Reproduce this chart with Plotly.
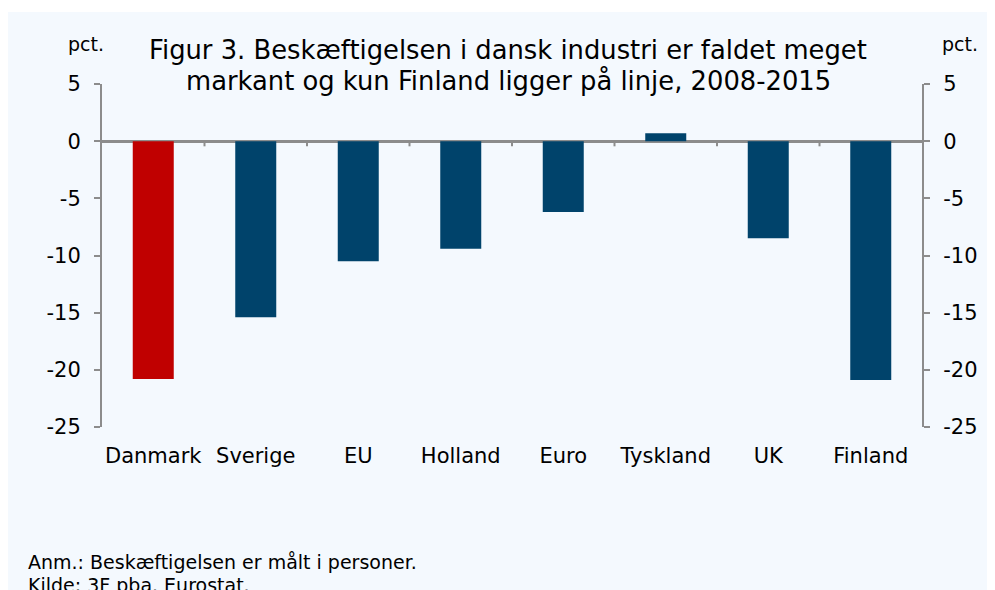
import plotly.graph_objects as go

categories = ["Danmark", "Sverige", "EU", "Holland", "Euro", "Tyskland", "UK", "Finland"]
values = [-20.8, -15.4, -10.5, -9.4, -6.2, 0.7, -8.5, -20.9]
bar_colors = ["#C00000"] + ["#00436B"] * 7
y_ticks = [5, 0, -5, -10, -15, -20, -25]
y_ticktext = ["5", "0", "-5", "-10", "-15", "-20", "-25"]

FONT = "DejaVu Sans"
AXC = "#8C8C8C"
BG = "#F4F9FE"

# page body has an 8px offset; work in figure coordinates (screen - 8)
OFF = 8
L, R, T, B = 102 - OFF, 922 - OFF, 84 - OFF, 427 - OFF
W, H = 995, 590
PW, PH = R - L, B - T


def px(xs):
    return (xs - OFF - L) / PW


def py(ys):
    return (B - (ys - OFF)) / PH


fig = go.Figure()
fig.add_trace(go.Bar(x=categories, y=values, marker=dict(color=bar_colors, line=dict(width=0)),
                     width=0.4, hoverinfo="x+y", showlegend=False))
fig.add_trace(go.Scatter(x=categories, y=values, yaxis="y2", mode="markers",
                         marker=dict(opacity=0), hoverinfo="skip", showlegend=False))

shapes = [
    dict(type="rect", xref="paper", yref="paper", x0=px(0), x1=px(1000), y0=py(12), y1=py(0),
         fillcolor="white", line=dict(width=0), layer="below"),
]
for i in range(len(categories) - 1):
    shapes.append(dict(type="line", xref="x", yref="y", x0=i + 0.5, x1=i + 0.5, y0=0, y1=-0.45,
                       line=dict(color=AXC, width=2)))

yax = dict(range=[-25, 5], tickvals=y_ticks, ticktext=y_ticktext, showgrid=False, showline=True,
           linecolor=AXC, linewidth=2, ticks="outside", ticklen=6, tickcolor=AXC, tickwidth=2,
           tickfont=dict(size=21), automargin=False, ticklabelstandoff=9)

fig.update_layout(
    width=W, height=H,
    paper_bgcolor=BG, plot_bgcolor=BG,
    margin=dict(l=L, r=W - R, t=T, b=H - B),
    font=dict(family=FONT, color="#000000", size=21),
    bargap=0.6,
    xaxis=dict(type="category", showline=False, ticks="", showgrid=False, zeroline=False,
               tickfont=dict(size=21), range=[-0.5, 7.5], automargin=False,
               ticklabelstandoff=14),
    yaxis=dict(**yax, zeroline=True, zerolinecolor=AXC, zerolinewidth=2.5),
    yaxis2=dict(**yax, overlaying="y", side="right", zeroline=False),
    shapes=shapes,
)

title_lines = ["Figur 3. Beskæftigelsen i dansk industri er faldet meget",
               "markant og kun Finland ligger på linje, 2008-2015"]
for line, yc in zip(title_lines, [50, 81]):
    fig.add_annotation(text=line, xref="paper", yref="paper", x=px(508), y=py(yc),
                       xanchor="center", yanchor="middle", showarrow=False,
                       font=dict(size=25.8, family=FONT))
fig.add_annotation(text="pct.", xref="paper", yref="paper", x=px(66), y=py(44),
                   xanchor="left", yanchor="middle", showarrow=False, font=dict(size=19))
fig.add_annotation(text="pct.", xref="paper", yref="paper", x=px(940), y=py(44),
                   xanchor="left", yanchor="middle", showarrow=False, font=dict(size=19))
fig.add_annotation(text="Anm.: Beskæftigelsen er målt i personer.", xref="paper", yref="paper",
                   x=px(26), y=py(562), xanchor="left", yanchor="middle",
                   showarrow=False, font=dict(size=19))
fig.add_annotation(text="Kilde: 3F pba. Eurostat.", xref="paper", yref="paper",
                   x=px(26), y=py(585), xanchor="left", yanchor="middle",
                   showarrow=False, font=dict(size=19))

fig.write_html("out.html")
